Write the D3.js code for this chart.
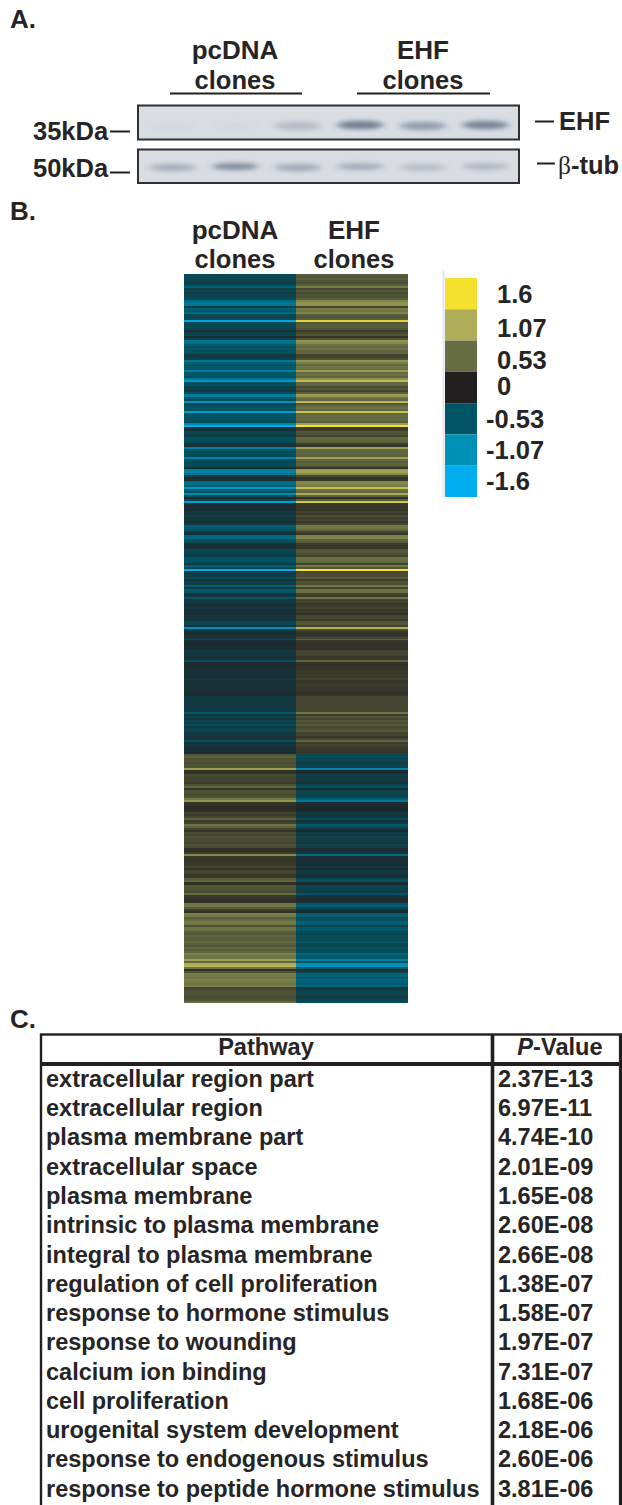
<!DOCTYPE html>
<html><head><meta charset="utf-8">
<script src="https://cdnjs.cloudflare.com/ajax/libs/d3/7.8.5/d3.min.js"></script>
<style>html,body{margin:0;padding:0;background:#fff}svg{display:block}text{font-family:"Liberation Sans",Arial,sans-serif;font-weight:bold;fill:#262425}</style>
</head><body><svg id="c" width="622" height="1505"></svg>
<script>
// Panel B: heatmap rows, magnitude of log-ratio read top to bottom
const upInEhf = [.42,.38,.42,.35,.3,.42,.65,.3,.38,.3,.35,.35,.42,.75,.85,.85,.26,.65,.58,.72,.42,.38,.42,1.45,.38,.42,.42,.38,.2,.3,.38,.14,.35,.85,.75,.58,.5,.58,.46,.5,.26,.26,.35,.85,.65,.5,.58,.58,.9,.5,.58,.46,.85,1.2,.46,.5,.3,.38,.26,.42,.9,.9,.58,.46,1.15,.38,.5,.58,.5,1.3,.5,.54,.5,.54,.42,.95,1.6,.18,.2,.38,.35,.26,.5,.5,.42,.2,.14,.95,.5,.46,.5,.42,.95,.5,.42,.46,.38,.14,.9,.95,.8,.3,.14,.16,.75,.75,.65,1.25,.58,.5,1.05,.46,.12,.42,1.35,.16,.14,.16,.14,.26,.16,.3,.2,.26,.16,.26,
.62,.58,.5,.26,.16,.7,.75,.46,.42,.2,.16,.16,.38,.38,.35,.26,.54,.54,.5,.26,.62,.38,1.6,.26,.3,.3,.42,.2,.35,.3,.62,.26,.58,.54,.26,.2,.58,.26,.26,.16,.2,.26,.16,.16,.14,.26,.26,.2,.35,.38,.26,1.1,.3,.16,.14,.16,.26,.42,.16,.12,.12,.14,.12,.26,.26,.26,.16,.2,.46,.12,.12,.14,.14,.16,.16,.2,.16,.26,.16,.16,.2,.16,.16,.16,.12,.14,.26,.26,.26,.26,.26,.26,.26,.26,.58,.2,.35,.26,.38,.3,.42,.26,.35,.38,.26,.26,.16,.26,.46,.2,.26,.2,.16,.16,.16];
const downInEhf = [.38,.46,.35,.38,.3,.35,.35,.95,.12,.12,.3,.26,.26,.26,.2,.35,.5,.16,.35,.35,.3,.35,.62,.85,.14,.12,.08,.08,.12,.26,.2,.26,.46,.2,.26,.58,.46,.26,.14,.3,.26,.35,.3,.3,.26,.35,.3,.12,.12,.2,.75,.16,.14,.14,.16,.16,.26,.14,.26,.26,.16,.16,.42,.5,.12,.12,.38,.35,.35,.3,.54,.16,.14,.12,.12,.58,.62,.42,.2,.12,.65,.62,.42,.5,.65,.58,.35,.58,.58,.42,.38,.46,.42,.42,.5,.42,.38,.5,.42,.46,.7,.58,.58,.95,.5,1.05,1.15,.58,.12,.35,.65,.65,.58,.7,.62,.58,.7,.26,.3,.35,.35,.3,.3,.35,.5];
const heatColumns = ["pcDNA","EHF"];
const legendStops = [1.6,1.07,0.53,0,-0.53,-1.07,-1.6];
const legendLabels = ["1.6","1.07","0.53","0","-0.53","-1.07","-1.6"];
const legendColors = ["#f6e02e","#b0ad5a","#666d42","#231f20","#005564","#0090b6","#00aeef"];
// Panel A: blot band intensities per lane
const lanes = [1,2,3,4,5,6];
const ehfBand = [.03,.03,.3,.9,.6,.85];
const tubBand = [.45,.75,.5,.45,.3,.35];
// Panel C: table
const pathways = ["extracellular region part","extracellular region","plasma membrane part","extracellular space","plasma membrane","intrinsic to plasma membrane","integral to plasma membrane","regulation of cell proliferation","response to hormone stimulus","response to wounding","calcium ion binding","cell proliferation","urogenital system development","response to endogenous stimulus","response to peptide hormone stimulus"];
const pValues = ["2.37E-13","6.97E-11","4.74E-10","2.01E-09","1.65E-08","2.60E-08","2.66E-08","1.38E-07","1.58E-07","1.97E-07","7.31E-07","1.68E-06","2.18E-06","2.60E-06","3.81E-06"];

const svg = d3.select("#c");
const ink = "#231f20";
const txt = (g,x,y,s,size,anchor="start") => g.append("text").attr("x",x).attr("y",y).attr("font-size",size).attr("text-anchor",anchor).text(s);
const line = (x1,y1,x2,y2,w,c=ink) => svg.append("line").attr("x1",x1).attr("y1",y1).attr("x2",x2).attr("y2",y2).attr("stroke",c).attr("stroke-width",w);

const defs = svg.append("defs");
defs.append("filter").attr("id","bl").attr("x","-30%").attr("y","-150%").attr("width","160%").attr("height","400%")
  .append("feGaussianBlur").attr("stdDeviation","3.5 1.9");

// panel letters
txt(svg,10,28,"A.",26); txt(svg,10,220,"B.",26); txt(svg,10,1028,"C.",26);

// --- Panel A
txt(svg,235,59,"pcDNA",26,"middle"); txt(svg,235,89,"clones",25.5,"middle");
txt(svg,423,59,"EHF",26,"middle"); txt(svg,423,89,"clones",25.5,"middle");
line(170,93.5,302,93.5,2); line(357,93.5,490,93.5,2);

const laneX = d3.scaleBand().domain(lanes).range([142,516]).paddingInner(.12).paddingOuter(.05);
const bandOp = d3.scaleLinear().domain([0,1]).range([0,.9]);
function blot(y,h,vals,cy,dh,id){
  defs.append("clipPath").attr("id",id).append("rect").attr("x",138).attr("y",y).attr("width",381).attr("height",h);
  svg.append("rect").attr("x",138).attr("y",y).attr("width",381).attr("height",h).attr("fill","#d8dce3");
  svg.append("g").attr("clip-path",`url(#${id})`).selectAll("ellipse").data(lanes).join("ellipse")
    .attr("cx",d=>laneX(d)+laneX.bandwidth()/2).attr("cy",(d,i)=>cy+(i%2?-.5:.5))
    .attr("rx",laneX.bandwidth()/2-4).attr("ry",dh)
    .attr("fill","#5a6a7c").attr("opacity",(d,i)=>bandOp(vals[i])).attr("filter","url(#bl)");
  svg.append("rect").attr("x",138).attr("y",y).attr("width",381).attr("height",h).attr("fill","none").attr("stroke","#2f3033").attr("stroke-width",2);
}
blot(105.5,34,ehfBand,125.5,4.2,"cA");
blot(149.5,33.5,tubBand,167,3.4,"cB");
txt(svg,33,140,"35kDa",25.5); txt(svg,33,177,"50kDa",25.5);
line(110,131.5,130,131.5,2); line(110,172.5,130,172.5,2);
line(535,121.5,554,121.5,2); line(537,163.5,555,163.5,2);
txt(svg,559,130,"EHF",25.5);
const bt = svg.append("text").attr("x",558).attr("y",174).attr("font-size",25.5);
bt.append("tspan").attr("style","font-family:'Liberation Serif';font-weight:normal").text("β");
bt.append("tspan").text("-tub");

// --- Panel B
txt(svg,235,239,"pcDNA",26,"middle"); txt(svg,235,268,"clones",25.5,"middle");
txt(svg,354,239,"EHF",26,"middle"); txt(svg,354,268,"clones",25.5,"middle");

const rows = [
  ...upInEhf.map(m=>({pcDNA:-m,EHF:m})),
  ...downInEhf.map(m=>({pcDNA:m,EHF:-m}))
];
const heatColor = d3.scaleLinear().domain(legendStops).range(legendColors).clamp(true);
const yRow = d3.scaleBand().domain(d3.range(rows.length)).range([274,1003]);
const xCol = d3.scaleBand().domain(heatColumns).range([184,408]);
const hm = svg.append("g").attr("shape-rendering","crispEdges");
heatColumns.forEach(col=>{
  hm.selectAll(null).data(rows).join("rect")
    .attr("x",xCol(col)).attr("width",xCol.bandwidth())
    .attr("y",(d,i)=>yRow(i)).attr("height",yRow.bandwidth()+.1)
    .attr("fill",d=>heatColor(d[col]));
});

// legend
const yLeg = d3.scaleBand().domain(legendLabels).range([278,497]);
line(443.5,270,443.5,497,2,"#e3e5ea");
svg.append("g").selectAll("rect").data(legendLabels).join("rect")
  .attr("x",445).attr("width",32).attr("y",d=>yLeg(d)).attr("height",yLeg.bandwidth())
  .attr("fill",(d,i)=>legendColors[i]);
const legY = [303,337,369,395,428,459,490];
const legX = [497,497,497,497,486,486,486];
svg.append("g").selectAll("text").data(legendLabels).join("text")
  .attr("x",(d,i)=>legX[i]).attr("y",(d,i)=>legY[i]).attr("font-size",25.5).text(d=>d);

// --- Panel C
const yT = d3.scaleBand().domain(pathways).range([1064,1503]);
svg.append("rect").attr("x",41).attr("y",1034.5).attr("width",581).attr("height",472).attr("fill","none").attr("stroke",ink).attr("stroke-width",2.4);
line(40,1064,622,1064,3.8);
line(492.5,1034,492.5,1505,3.6);
line(620.5,1034,620.5,1505,3.2);
txt(svg,266,1055,"Pathway",23.6,"middle");
const ph = svg.append("text").attr("x",560).attr("y",1055).attr("font-size",23.6).attr("text-anchor","middle");
ph.append("tspan").attr("font-style","italic").text("P");
ph.append("tspan").text("-Value");
const rowsG = svg.append("g");
rowsG.selectAll(".p").data(pathways).join("text").attr("class","p")
  .attr("x",46).attr("y",d=>yT(d)+yT.bandwidth()/2+8.3).attr("font-size",23.5).text(d=>d);
rowsG.selectAll(".v").data(pValues).join("text").attr("class","v")
  .attr("x",498).attr("y",(d,i)=>yT(pathways[i])+yT.bandwidth()/2+8.3).attr("font-size",23.5).text(d=>d);
</script></body></html>
